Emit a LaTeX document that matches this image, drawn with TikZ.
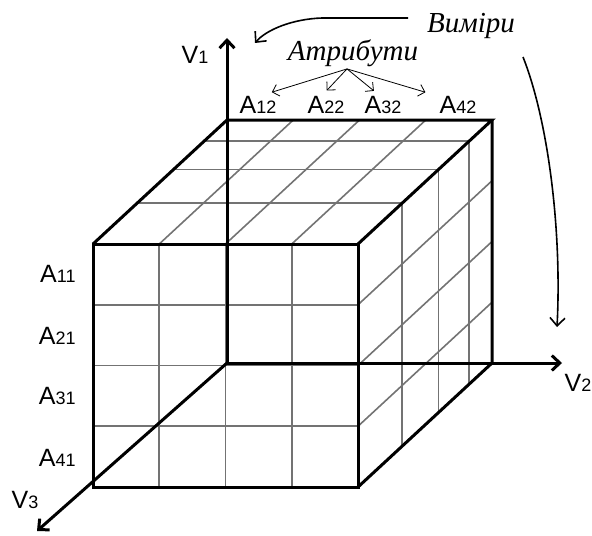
\documentclass[tikz,border=0pt]{standalone}
\usepackage{fontspec}
\setmainfont{Liberation Sans}
\newfontfamily\notefont{Liberation Serif}
\usepackage{tikz}
\usetikzlibrary{arrows.meta, positioning, calc}

% letter with a small index, as A12 or V1
\newcommand{\idx}[2]{#1{\fontsize{9}{10}\selectfont #2}}

\begin{document}
\begin{tikzpicture}[
	x=0.5pt, y=-0.5pt,
	>={Straight Barb[length=4pt,width=7.5pt]},
	edge/.style={line width=1.5pt},
	gridline/.style={draw=black!55, line width=0.8pt},
	axis/.style={->, line width=1.5pt},
	pointer/.style={->, line width=0.8pt},
	fan/.style={-{Straight Barb[length=3pt,width=6pt]}, line width=0.4pt, shorten >=2pt},
	lbl/.style={font=\fontsize{12.5}{14}\selectfont, inner sep=1pt},
	note/.style={font=\notefont\itshape\fontsize{14.5}{16}\selectfont, inner sep=1pt}
	]
	\useasboundingbox (0,0) rectangle (592,535);
	
	% Cube corners
	\coordinate (O) at (227,363);
	\coordinate (btl) at (227,120);
	\coordinate (btr) at (492,120);
	\coordinate (bbr) at (492,363);
	\coordinate (fbl) at (93,487);
	\coordinate (fbr) at (358,487);
	\coordinate (ftl) at (93,244);
	\coordinate (ftr) at (358,244);
	
	% Grid
	\foreach \i in {1,2,3} {
		\draw[gridline] ($(fbl)!\i/4!(fbr)$) -- ($(ftl)!\i/4!(ftr)$);
		\draw[gridline] ($(fbl)!\i/4!(ftl)$) -- ($(fbr)!\i/4!(ftr)$);
		\draw[gridline] ($(ftl)!\i/4!(ftr)$) -- ($(btl)!\i/4!(btr)$);
		\draw[gridline] ($(ftr)!\i/4!(fbr)$) -- ($(btr)!\i/4!(bbr)$);
	}
	\foreach \t in {0.17,0.4,0.67} {
		\draw[gridline] ($(btl)!\t!(ftl)$) -- ($(btr)!\t!(ftr)$);
		\draw[gridline] ($(btr)!\t!(ftr)$) -- ($(bbr)!\t!(fbr)$);
	}
	
	% Cube edges
	\draw[edge] (fbl) rectangle (ftr);
	\draw[edge] (ftl) -- (btl) -- (btr) -- (ftr);
	\draw[edge] (btr) -- (bbr) -- (fbr);
	
	% Axes
	\coordinate (v1end) at (227,38);
	\coordinate (v2end) at (562,363);
	\coordinate (v3end) at (37,531);
	\draw[axis] (O) -- (v1end);
	\draw[axis] (O) -- (v2end);
	\draw[axis] (O) -- (v3end);
	\node[lbl] (v1) at (195,55) {\idx{V}{1}};
	\node[lbl] (v2) at (578,383) {\idx{V}{2}};
	\node[lbl] (v3) at (25,500) {\idx{V}{3}};
	
	% Attributes
	\node[lbl, anchor=east] (a11) at (78,274) {\idx{A}{11}};
	\node[lbl, anchor=east] (a21) at (78,336) {\idx{A}{21}};
	\node[lbl, anchor=east] (a31) at (78,396) {\idx{A}{31}};
	\node[lbl, anchor=east] (a41) at (78,458) {\idx{A}{41}};
	\node[lbl, anchor=base] (a12) at (258,113) {\idx{A}{12}};
	\node[lbl, anchor=base] (a22) at (326,113) {\idx{A}{22}};
	\node[lbl, anchor=base] (a32) at (383,113) {\idx{A}{32}};
	\node[lbl, anchor=base] (a42) at (458,113) {\idx{A}{42}};
	
	\node[note] (attr) at (353,53) {Атрибути};
	\coordinate (fan) at ($(attr.south)+(-6,0)$);
	\draw[fan] (fan) -- ($(a12.north)+(10,0)$);
	\draw[fan] (fan) -- ($(a22.north)+(-2,0)$);
	\draw[fan] (fan) -- ($(a32.north)+(-6,0)$);
	\draw[fan] (fan) -- ($(a42.north west)+(-8,0)$);
	
	% Dimensions
	\node[note] (dims) at (471,26) {Виміри};
	\coordinate (d1) at (408,18);
	\coordinate (d1end) at (255,43);
	\coordinate (d2) at (523,57);
	\coordinate (d2end) at (557,327);
	\draw[pointer] (d1) -- (322,18) .. controls (292,19) and (266,30) .. (d1end);
	\draw[pointer] (d2) .. controls (548,120) and (562,230) .. (d2end);
	
\end{tikzpicture}
\end{document}
